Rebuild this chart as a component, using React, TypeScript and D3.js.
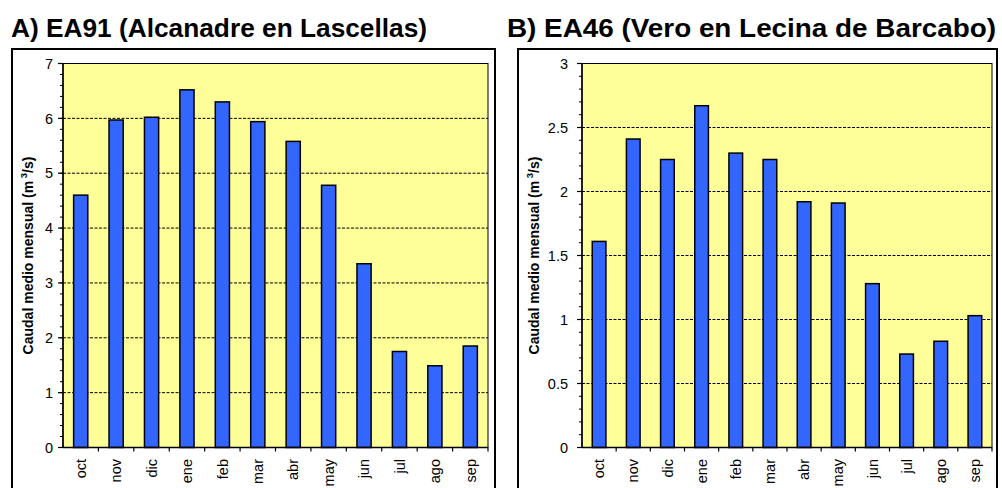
import React from "react";
import * as d3 from "d3";

const months = ["oct", "nov", "dic", "ene", "feb", "mar", "abr", "may", "jun", "jul", "ago", "sep"];
const valuesA = [4.6, 5.97, 6.02, 6.52, 6.3, 5.94, 5.58, 4.78, 3.35, 1.75, 1.49, 1.85];
const valuesB = [1.61, 2.41, 2.25, 2.67, 2.3, 2.25, 1.92, 1.91, 1.28, 0.73, 0.83, 1.03];
const ticksA = [0, 1, 2, 3, 4, 5, 6, 7];
const ticksB = [0, 0.5, 1, 1.5, 2, 2.5, 3];
const titleA = "A) EA91 (Alcanadre en Lascellas)";
const titleB = "B) EA46 (Vero en Lecina de Barcabo)";

const FONT = "Arial, 'Liberation Sans', Helvetica, sans-serif";

type PanelProps = {
  title: string;
  values: number[];
  ticks: number[];
  max: number;
  minorStep: number;
  box: { x0: number; x1: number };
  plot: { x0: number; x1: number };
  titleX: number;
  titleW: number;
  labelGap: number;
};

function Panel({ title, values, ticks, max, minorStep, box, plot, titleX, titleW, labelGap }: PanelProps) {
  const top = 63.5;
  const bottom = 447.5;
  const x = d3.scaleBand<string>().domain(months).range([plot.x0, plot.x1]).paddingInner(0.6).paddingOuter(0.3);
  const xb = d3.scaleBand<string>().domain(months).range([plot.x0, plot.x1]);
  const y = d3.scaleLinear().domain([0, max]).range([bottom, top]);
  const minor = d3.range(0, max + 1e-9, minorStep);
  const fmt = (v: number) => String(v);
  return (
    <g>
      <text
        x={titleX}
        y={37}
        fontFamily={FONT}
        fontWeight="bold"
        fontSize={25}
        textLength={titleW}
        lengthAdjust="spacingAndGlyphs"
        fill="#000"
      >
        {title}
      </text>
      <rect x={box.x0} y={49} width={box.x1 - box.x0} height={460} fill="#fff" stroke="#000" strokeWidth={2} />
      <rect x={plot.x0} y={top} width={plot.x1 - plot.x0} height={bottom - top} fill="#FFFF99" stroke="#000" strokeWidth={1} />
      {ticks.filter((t) => t > 0).map((t) => (
        <line key={"g" + t} x1={plot.x0} x2={plot.x1} y1={y(t)} y2={y(t)} stroke="#000" strokeWidth={1} strokeDasharray="3,1.5" />
      ))}
      {values.map((v, i) => (
        <rect
          key={months[i]}
          x={x(months[i])!}
          y={y(v)}
          width={x.bandwidth()}
          height={bottom - y(v)}
          fill="#3366FF"
          stroke="#000"
          strokeWidth={1.5}
        />
      ))}
      <line x1={plot.x0} x2={plot.x0} y1={top} y2={bottom} stroke="#000" strokeWidth={1.5} />
      <line x1={plot.x0} x2={plot.x1} y1={bottom} y2={bottom} stroke="#000" strokeWidth={1.5} />
      {minor.map((t, i) => (
        <line key={"m" + i} x1={plot.x0 - 3} x2={plot.x0} y1={y(t)} y2={y(t)} stroke="#000" strokeWidth={1} />
      ))}
      {ticks.map((t) => (
        <g key={"t" + t}>
          <line x1={plot.x0 - 5} x2={plot.x0} y1={y(t)} y2={y(t)} stroke="#000" strokeWidth={1.2} />
          <text x={plot.x0 - labelGap} y={y(t)} dy="0.36em" textAnchor="end" fontFamily={FONT} fontSize={14.5} fill="#000">
            {fmt(t)}
          </text>
        </g>
      ))}
      {months.map((m) => (
        <line key={"xt" + m} x1={xb(m)! + xb.bandwidth()} x2={xb(m)! + xb.bandwidth()} y1={bottom} y2={bottom + 4} stroke="#000" strokeWidth={1.2} />
      ))}
      {months.map((m) => {
        const cx = xb(m)! + xb.bandwidth() / 2;
        return (
          <text
            key={"xl" + m}
            transform={`translate(${cx},${459}) rotate(-90)`}
            dy="0.36em"
            textAnchor="end"
            fontFamily={FONT}
            fontSize={14.5}
            fill="#000"
          >
            {m}
          </text>
        );
      })}
      <text
        transform={`translate(${box.x0 + 21},${(top + bottom) / 2}) rotate(-90)`}
        textAnchor="middle"
        fontFamily={FONT}
        fontWeight="bold"
        fontSize={14}
        fill="#000"
      >
        Caudal medio mensual (m
        <tspan fontSize={9.5} dy={-6}> 3</tspan>
        <tspan dy={6}>/s)</tspan>
      </text>
    </g>
  );
}

export default function App() {
  return (
    <div style={{ position: "absolute", left: 0, top: 0 }}>
      <svg width={1002} height={488} style={{ display: "block", background: "#fff" }}>
        <Panel
          title={titleA}
          values={valuesA}
          ticks={ticksA}
          max={7}
          minorStep={0.2}
          box={{ x0: 12, x1: 495 }}
          plot={{ x0: 63, x1: 488 }}
          titleX={11}
          titleW={416}
          labelGap={10}
        />
        <Panel
          title={titleB}
          values={valuesB}
          ticks={ticksB}
          max={3}
          minorStep={0.1}
          box={{ x0: 518, x1: 997 }}
          plot={{ x0: 582, x1: 992 }}
          titleX={507}
          titleW={489}
          labelGap={14}
        />
      </svg>
    </div>
  );
}
